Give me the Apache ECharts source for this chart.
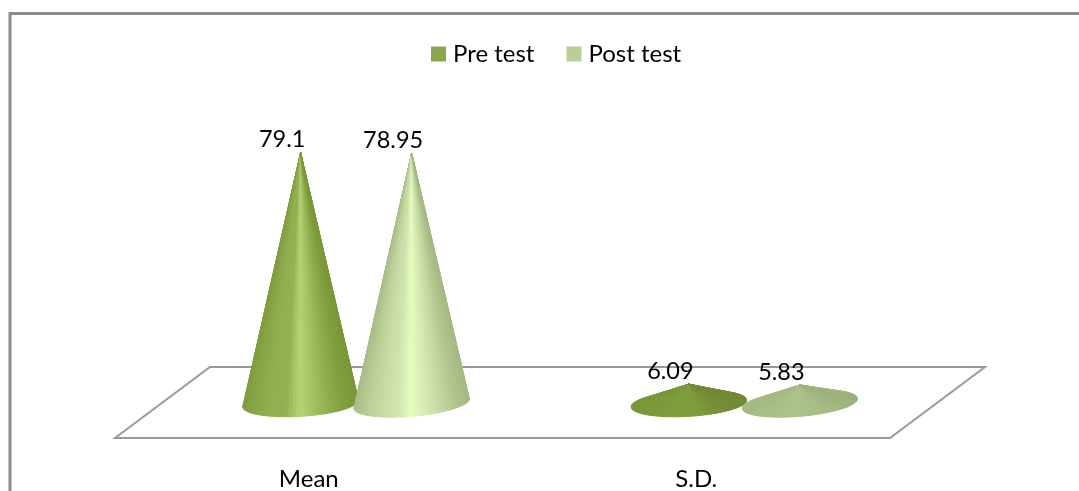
<!DOCTYPE html>
<html>
<head>
<meta charset="utf-8">
<style>html,body{margin:0;padding:0;background:#fff}#c{width:1079px;height:491px}</style>
<script src="https://cdn.jsdelivr.net/npm/echarts@6/dist/echarts.min.js"></script>
</head>
<body>
<div id="c"></div>
<script>
var categories = ['Mean', 'S.D.'];
var preTest = [79.1, 6.09];
var postTest = [78.95, 5.83];

// Shading across each cone, left edge to right edge
var preTall = ['#7f9d3e', '#8aa849', '#92b050', '#93b152', '#b3d476', '#a3c161', '#90ae4e', '#829f40', '#7a9738'];
var postTall = ['#a8bc86', '#bccf98', '#c8dba6', '#d0e4af', '#e6fdbd', '#d6eab4', '#c6d9a3', '#b3c68f', '#a5b982'];
var preFlat = ['#789837', '#7a9a39', '#7c9c3b', '#7e9d3d', '#7f9e3e', '#7c9a3b', '#788f36', '#748c33', '#718930'];
var postFlat = ['#a4ba80', '#a8bd84', '#abc088', '#adc18a', '#adc28a', '#aabf87', '#a6ba83', '#a1b57e', '#9db17a'];

function hex(c) { return [parseInt(c.substr(1, 2), 16), parseInt(c.substr(3, 2), 16), parseInt(c.substr(5, 2), 16)]; }
function shade(stops, t) {
  var p = Math.max(0, Math.min(0.9999, t)) * (stops.length - 1), i = Math.floor(p), f = p - i;
  var a = hex(stops[i]), b = hex(stops[i + 1]);
  return 'rgb(' + [0, 1, 2].map(function (k) { return Math.round(a[k] + (b[k] - a[k]) * f); }).join(',') + ')';
}

function coneRenderer(side, tall, flat, tiltDeg) {
  return function (params, api) {
    var idx = api.value(0), val = api.value(1);
    var band = api.size([1, 0])[0];
    var dx = side * band * 0.143;
    var tip = api.coord([idx, val]); tip[0] += dx;
    var base = api.coord([idx, 0]); base[0] += dx;
    var A = band * 0.149, B = band * 0.033, tilt = tiltDeg * Math.PI / 180;
    var stops = val > 30 ? tall : flat;
    var ct = Math.cos(tilt), st = Math.sin(tilt);
    // tip in the ellipse's unit-circle frame, for the tangent points
    var rx = tip[0] - base[0], ry = tip[1] - base[1];
    var u = (rx * ct + ry * st) / A, v = (-rx * st + ry * ct) / B;
    var r = Math.sqrt(u * u + v * v), ang = Math.atan2(v, u), da = Math.acos(1 / r);
    var a0 = ang + da, a1 = ang + 2 * Math.PI - da; // via the near side of the base
    var n = 48, pts = [], i;
    for (i = 0; i <= n; i++) {
      var a = a0 + (a1 - a0) * i / n;
      var ex = A * Math.cos(a), ey = B * Math.sin(a);
      pts.push([base[0] + ex * ct - ey * st, base[1] + ex * st + ey * ct]);
    }
    if (pts[0][0] > pts[n][0]) pts.reverse();
    var children = [];
    for (i = 0; i < n; i++) {
      var t = ((pts[i][0] + pts[i + 1][0]) / 2 - (base[0] - A)) / (2 * A);
      var col = shade(stops, t);
      children.push({
        type: 'polygon',
        shape: { points: [tip, pts[i], pts[i + 1]] },
        style: { fill: col, stroke: col, lineWidth: 1 },
        silent: true
      });
    }
    children.push({
      type: 'text',
      x: tip[0] - 18.5, y: tip[1] - 13,
      style: { text: String(val), fill: '#000', font: '23.5px Lato', align: 'center', verticalAlign: 'middle' },
      z2: 50
    });
    return { type: 'group', children: children };
  };
}

var chart = echarts.init(document.getElementById('c'), null, { renderer: 'canvas' });
chart.setOption({
  animation: false,
  backgroundColor: '#fff',
  legend: {
    left: 426, top: 37, itemWidth: 15, itemHeight: 15, itemGap: 32, icon: 'rect',
    data: ['Pre test', 'Post test'],
    textStyle: { fontFamily: 'Lato', fontSize: 24, color: '#000', padding: [0, 0, 0, 2] }
  },
  grid: [
    { left: 162, width: 776.5, top: 150, height: 253.5 },
    { left: 115, width: 775, top: 400, height: 38 }
  ],
  xAxis: [
    { type: 'category', gridIndex: 0, data: categories, show: false },
    {
      type: 'category', gridIndex: 1, data: categories,
      axisLine: { show: false },
      axisTick: { show: false },
      axisLabel: { margin: 35, fontFamily: 'Lato', fontSize: 24, color: '#000' }
    }
  ],
  yAxis: [
    { type: 'value', gridIndex: 0, min: 0, max: 80, show: false },
    { type: 'value', gridIndex: 1, min: 0, max: 1, show: false }
  ],
  graphic: [
    { type: 'polyline', shape: { points: [[10, 491], [10, 13.5], [1079, 13.5]] }, style: { fill: null, stroke: '#8c8c8c', lineWidth: 3 }, z: -1, silent: true },
    { type: 'polygon', shape: { points: [[115, 438], [210, 367], [985, 367], [890, 438]] }, style: { fill: null, stroke: '#999', lineWidth: 2 }, z: -1, silent: true }
  ],
  series: [
    {
      name: 'Pre test', type: 'custom', xAxisIndex: 0, yAxisIndex: 0, z: 3,
      itemStyle: { color: '#8aa64f' },
      encode: { x: 0, y: 1 },
      data: categories.map(function (c, i) { return [i, preTest[i]]; }),
      renderItem: coneRenderer(-1, preTall, preFlat, -3.5)
    },
    {
      name: 'Post test', type: 'custom', xAxisIndex: 0, yAxisIndex: 0, z: 4,
      itemStyle: { color: '#bacf96' },
      encode: { x: 0, y: 1 },
      data: categories.map(function (c, i) { return [i, postTest[i]]; }),
      renderItem: coneRenderer(1, postTall, postFlat, -5)
    }
  ]
});
</script>
</body>
</html>
